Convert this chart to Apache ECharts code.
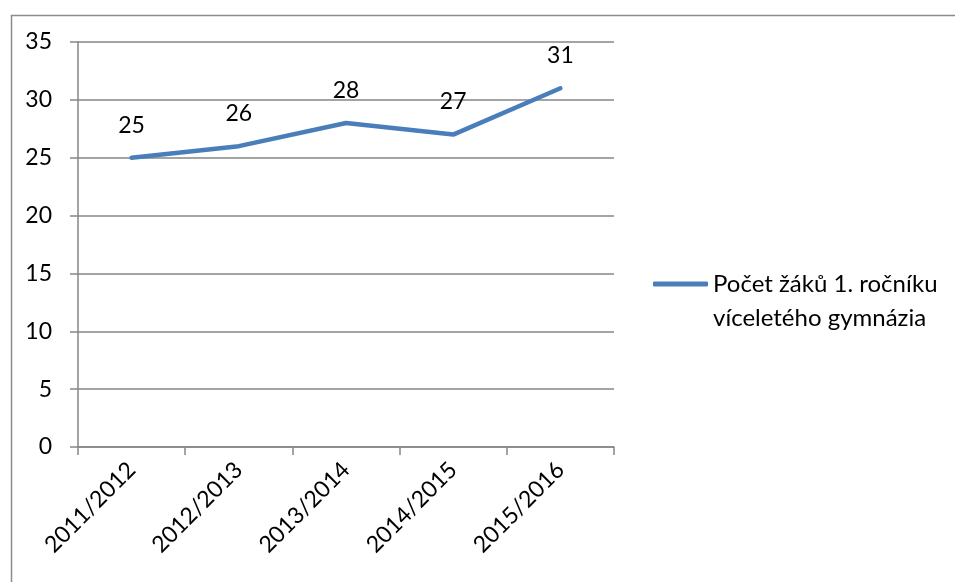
<!DOCTYPE html>
<html>
<head>
<meta charset="utf-8">
<script src="https://cdn.jsdelivr.net/npm/echarts@6/dist/echarts.min.js"></script>
<style>
  html, body { margin: 0; padding: 0; background: #fff; }
  #chart { width: 955px; height: 582px; }
</style>
</head>
<body>
<div id="chart"></div>
<script>
  // školní roky a počty žáků
  var years = ['2011/2012', '2012/2013', '2013/2014', '2014/2015', '2015/2016'];
  var pupils = [25, 26, 28, 27, 31];
  var seriesName = 'Počet žáků 1. ročníku\nvíceletého gymnázia';
  var yTicks = { min: 0, max: 35, step: 5 };

  var font = 'Lato, "Open Sans", sans-serif';
  var gray = '#868686';

  var myChart = echarts.init(document.getElementById('chart'), null, { renderer: 'canvas' });
  var option = {
    backgroundColor: '#fff',
    animation: false,
    graphic: [{
      type: 'rect',
      left: 9, top: 13,
      shape: { width: 980, height: 620 },
      style: { fill: 'none', stroke: '#8c8c8c', lineWidth: 1.5 },
      silent: true
    }],
    grid: { left: 78, right: 341, top: 42, bottom: 135 },
    legend: {
      orient: 'vertical',
      left: 653, top: 233,
      padding: 0,
      itemWidth: 55, itemHeight: 5,
      icon: 'roundRect',
      itemGap: 0,
      // prázdný první řádek, aby čára seděla u prvního řádku textu
      formatter: function (name) { return '\n' + name; },
      textStyle: {
        fontFamily: font, fontSize: 24, color: '#000',
        lineHeight: 34
      },
      data: [seriesName]
    },
    xAxis: {
      type: 'category',
      data: years,
      boundaryGap: true,
      axisLine: { lineStyle: { color: gray, width: 1.5 } },
      axisTick: { show: true, length: 8, lineStyle: { color: gray, width: 1.5 } },
      axisLabel: { rotate: 45, margin: 19, fontFamily: font, fontSize: 23, color: '#000' },
      splitLine: { show: false }
    },
    yAxis: {
      type: 'value',
      min: yTicks.min, max: yTicks.max, interval: yTicks.step,
      axisLine: { show: true, lineStyle: { color: gray, width: 1.5 } },
      axisTick: { show: true, length: 8, lineStyle: { color: gray, width: 1.5 } },
      axisLabel: { margin: 26, fontFamily: font, fontSize: 23, color: '#000' },
      splitLine: { show: true, lineStyle: { color: gray, width: 1.5 } }
    },
    series: [{
      name: seriesName,
      type: 'line',
      data: pupils,
      symbol: 'circle',
      symbolSize: 0.1,
      showSymbol: true,
      color: '#4a7ebb',
      lineStyle: { width: 4.5, color: '#4a7ebb', cap: 'round' },
      label: {
        show: true, position: 'top', distance: 21,
        fontFamily: font, fontSize: 23, color: '#000'
      }
    }]
  };
  myChart.setOption(option);
</script>
</body>
</html>
